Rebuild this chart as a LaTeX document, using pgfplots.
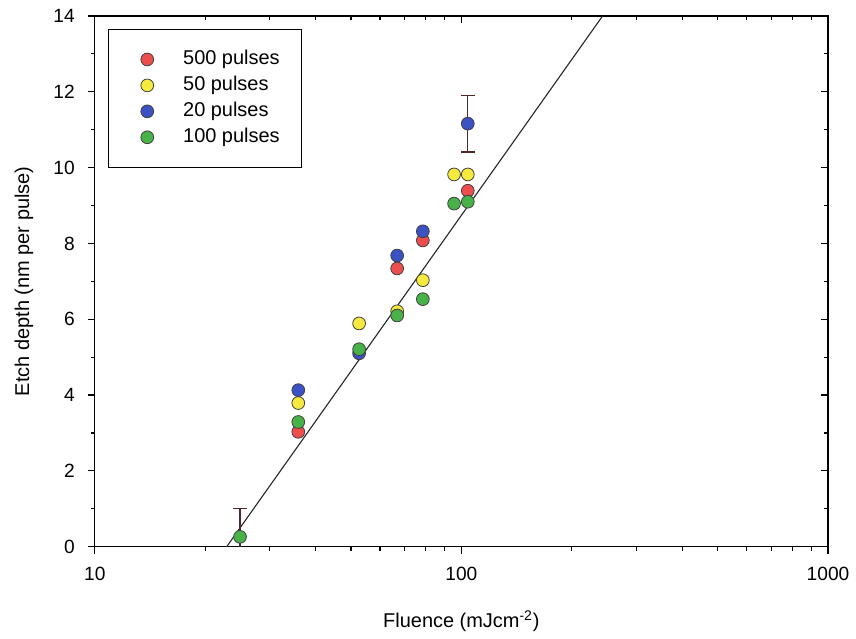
\documentclass[border=0pt]{standalone}
\usepackage{pgfplots}
\pgfplotsset{compat=1.18}
\usepackage{fontspec}
\setmainfont{Liberation Sans}
\definecolor{cred}{RGB}{236,78,78}
\definecolor{cyellow}{RGB}{246,234,62}
\definecolor{cblue}{RGB}{58,82,196}
\definecolor{cgreen}{RGB}{72,178,72}
\definecolor{errc}{RGB}{80,40,40}
\begin{document}
\begin{tikzpicture}
% overlay axis: inside ticks on top / right
\begin{axis}[
    xmode=log, xmin=10, xmax=1000, ymin=0, ymax=14,
    scale only axis, width=367.5pt, height=266pt,
    at={(0,0)}, anchor=south west,
    xtick={10,100,1000}, ytick={0,2,4,6,8,10,12,14},
    minor ytick={1,3,5,7,9,11,13},
    major tick length=3.5pt, minor tick length=2pt,
    every tick/.style={black, line width=0.6pt},
    axis line style={black, line width=0.6pt},
    tick pos=right, tick align=inside,
    xticklabels={}, yticklabels={}]
\end{axis}
\begin{axis}[
    xmode=log, xmin=10, xmax=1000, ymin=0, ymax=14,
    scale only axis, width=367.5pt, height=266pt,
    at={(0,0)}, anchor=south west,
    xtick={10,100,1000}, ytick={0,2,4,6,8,10,12,14},
    minor ytick={1,3,5,7,9,11,13},
    major tick length=3.5pt, minor tick length=2pt,
    every tick/.style={black, line width=0.6pt},
    axis line style={black, line width=0.6pt},
  tick pos=left, tick align=outside,
  /pgf/number format/assume math mode=true,
  log ticks with fixed point,
  xticklabels={10,100,1000},
  tick label style={font=\fontsize{9.6}{11.5}\selectfont},
  xticklabel style={yshift=-3pt},
  yticklabel style={xshift=-3pt},
  xlabel={Fluence (mJcm\textsuperscript{-2})},
  ylabel={Etch depth (nm per pulse)},
  label style={font=\fontsize{12.5}{15}\selectfont},
  every axis x label/.style={at={(axis description cs:0.5,-0.141)}, anchor=center},
  every axis y label/.style={at={(axis description cs:-0.0966,0.5)}, rotate=90, anchor=center},
  legend style={at={(axis description cs:0,1)}, anchor=north west, xshift=6.5pt, yshift=-6.5pt,
    draw=black, line width=0.6pt, inner xsep=11pt, inner ysep=10.5pt, row sep=4pt,
    column sep=0pt,
    font=\fontsize{10}{12}\selectfont,
    nodes={text height=7pt, text depth=2pt, inner xsep=0pt, inner ysep=0pt}},
  legend cell align=left,
  legend image code/.code={%
    \path[draw=none, fill=none] (0pt,-3pt) rectangle (26.5pt,3pt);
    \draw[#1, only marks] plot coordinates {(8.5pt,0pt)};},
  mark size=3.2pt,
]
% fit line
\addplot[black!85, line width=0.55pt, forget plot] coordinates {(22.9,0) (242.7,14)};
% error bars
\addplot[draw=none, mark=none, forget plot,
  error bars/.cd, y dir=both, y explicit,
  error bar style={draw=errc, line width=0.6pt},
  error mark options={rotate=90, mark size=3.5pt, draw=errc, line width=0.6pt}]
  coordinates {(24.9,0.26) +- (0,0.74) (104.1,11.16) +- (0,0.75)};
\addplot[only marks, mark=*, mark options={fill=cred, draw=black!75, line width=0.4pt}]
  coordinates {(35.9,3.03) (66.8,7.34) (78.5,8.08) (104.1,9.39)};
\addlegendentry{500 pulses}
\addplot[only marks, mark=*, mark options={fill=cyellow, draw=black!75, line width=0.4pt}]
  coordinates {(35.9,3.79) (52.6,5.89) (66.8,6.21) (78.5,7.03) (95.5,9.82) (104.1,9.82)};
\addlegendentry{50 pulses}
\addplot[only marks, mark=*, mark options={fill=cblue, draw=black!75, line width=0.4pt}]
  coordinates {(35.9,4.13) (52.6,5.10) (66.8,7.68) (78.5,8.32) (104.1,11.16)};
\addlegendentry{20 pulses}
\addplot[only marks, mark=*, mark options={fill=cgreen, draw=black!75, line width=0.4pt}]
  coordinates {(24.9,0.26) (35.9,3.29) (52.6,5.21) (66.8,6.10) (78.5,6.53) (95.5,9.05) (104.1,9.10)};
\addlegendentry{100 pulses}
\end{axis}
\path (-47.5pt,-46pt) rectangle (380.5pt,274pt);
\end{tikzpicture}
\end{document}
